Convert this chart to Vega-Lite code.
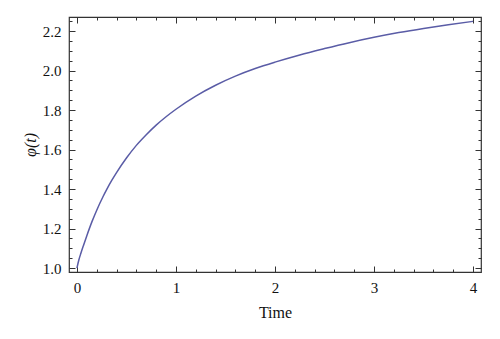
{
  "$schema": "https://vega.github.io/schema/vega-lite/v6.json",
  "width": 412,
  "height": 255,
  "autosize": {"type": "none"},
  "padding": {"left": 69, "top": 17, "right": 19, "bottom": 67},
  "background": "white",
  "config": {
    "view": {"stroke": "#333333", "strokeWidth": 1.2},
    "axis": {
      "labelFont": "Liberation Serif",
      "titleFont": "Liberation Serif",
      "labelFontSize": 15,
      "titleFontSize": 16,
      "titleFontWeight": "normal",
      "labelColor": "#111111",
      "titleColor": "#111111",
      "tickColor": "#333333",
      "domain": false,
      "grid": false,
      "labelFlush": false,
      "labelOverlap": false
    }
  },
  "data": {
    "values": [
      {"t": 0.0, "phi": 1.0},
      {"t": 0.02, "phi": 1.042},
      {"t": 0.04, "phi": 1.075},
      {"t": 0.067, "phi": 1.116},
      {"t": 0.1, "phi": 1.164},
      {"t": 0.152, "phi": 1.235},
      {"t": 0.2, "phi": 1.293},
      {"t": 0.263, "phi": 1.361},
      {"t": 0.3, "phi": 1.397},
      {"t": 0.35, "phi": 1.442},
      {"t": 0.4, "phi": 1.483},
      {"t": 0.5, "phi": 1.557},
      {"t": 0.6, "phi": 1.621},
      {"t": 0.7, "phi": 1.675},
      {"t": 0.8, "phi": 1.7235},
      {"t": 0.9, "phi": 1.766},
      {"t": 1.0, "phi": 1.804},
      {"t": 1.2, "phi": 1.8705},
      {"t": 1.4, "phi": 1.9255},
      {"t": 1.6, "phi": 1.9715},
      {"t": 1.8, "phi": 2.01},
      {"t": 2.0, "phi": 2.0425},
      {"t": 2.25, "phi": 2.079},
      {"t": 2.5, "phi": 2.111},
      {"t": 2.75, "phi": 2.141},
      {"t": 3.0, "phi": 2.168},
      {"t": 3.25, "phi": 2.192},
      {"t": 3.5, "phi": 2.213},
      {"t": 3.75, "phi": 2.232},
      {"t": 4.0, "phi": 2.249}
    ]
  },
  "layer": [
    {
      "mark": {"type": "line", "color": "#5a5ca6", "strokeWidth": 1.5, "interpolate": "monotone"},
      "encoding": {
        "x": {
          "field": "t", "type": "quantitative",
          "scale": {"domain": [-0.08, 4.08], "nice": false, "zero": false},
          "axis": {
            "orient": "bottom",
            "title": "Time",
            "values": [0,0.2,0.4,0.6,0.8,1,1.2,1.4,1.6,1.8,2,2.2,2.4,2.6,2.8,3,3.2,3.4,3.6,3.8,4],
            "labelExpr": "abs(round(datum.value) - datum.value) < 0.001 ? format(datum.value, 'd') : ''",
            "tickSize": {"condition": {"test": "abs(round(datum.value) - datum.value) < 0.001", "value": -6}, "value": -3},
            "labelPadding": 14,
            "titlePadding": 6
          }
        },
        "y": {
          "field": "phi", "type": "quantitative",
          "scale": {"domain": [0.98, 2.271], "nice": false, "zero": false},
          "axis": {
            "orient": "left",
            "title": "φ(t)",
            "titleFontStyle": "italic",
            "values": [1,1.05,1.1,1.15,1.2,1.25,1.3,1.35,1.4,1.45,1.5,1.55,1.6,1.65,1.7,1.75,1.8,1.85,1.9,1.95,2,2.05,2.1,2.15,2.2,2.25],
            "labelExpr": "abs(round(datum.value * 5) - datum.value * 5) < 0.001 ? format(datum.value, '.1f') : ''",
            "tickSize": {"condition": {"test": "abs(round(datum.value * 5) - datum.value * 5) < 0.001", "value": -6}, "value": -3},
            "labelPadding": 14,
            "titlePadding": 4
          }
        }
      }
    },
    {
      "mark": {"type": "line", "opacity": 0},
      "encoding": {
        "x": {
          "field": "t", "type": "quantitative",
          "scale": {"domain": [-0.08, 4.08], "nice": false, "zero": false},
          "axis": {
            "orient": "top",
            "title": null,
            "labels": false,
            "values": [0,0.2,0.4,0.6,0.8,1,1.2,1.4,1.6,1.8,2,2.2,2.4,2.6,2.8,3,3.2,3.4,3.6,3.8,4],
            "tickSize": {"condition": {"test": "abs(round(datum.value) - datum.value) < 0.001", "value": -6}, "value": -3}
          }
        },
        "y": {
          "field": "phi", "type": "quantitative",
          "scale": {"domain": [0.98, 2.271], "nice": false, "zero": false},
          "axis": {
            "orient": "right",
            "title": null,
            "labels": false,
            "values": [1,1.05,1.1,1.15,1.2,1.25,1.3,1.35,1.4,1.45,1.5,1.55,1.6,1.65,1.7,1.75,1.8,1.85,1.9,1.95,2,2.05,2.1,2.15,2.2,2.25],
            "tickSize": {"condition": {"test": "abs(round(datum.value * 5) - datum.value * 5) < 0.001", "value": -6}, "value": -3}
          }
        }
      }
    }
  ],
  "resolve": {"axis": {"x": "independent", "y": "independent"}}
}
